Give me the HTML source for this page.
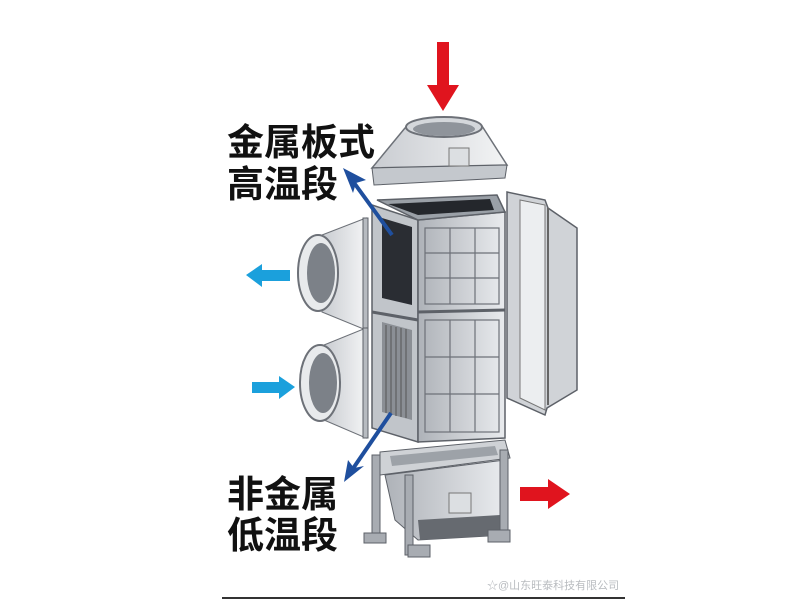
<!DOCTYPE html>
<html><head><meta charset="utf-8"><style>
body{margin:0;background:#fff;}
svg{display:block}
.t{font-family:"Liberation Sans","Noto Sans CJK SC",sans-serif;font-size:37px;font-weight:bold;fill:#111;}
</style></head><body>
<svg width="800" height="600" viewBox="0 0 800 600">
<defs>
<linearGradient id="g1" x1="0" x2="1"><stop offset="0" stop-color="#aeb2b8"/><stop offset="1" stop-color="#e9ebee"/></linearGradient>
<linearGradient id="g2" x1="0" x2="1"><stop offset="0" stop-color="#c9ccd1"/><stop offset="1" stop-color="#f3f4f5"/></linearGradient>
</defs>
<polygon points="437,42 449,42 449,85 459,85 443,111 427,85 437,85" fill="#e0141e"/>
<polygon points="405,128 482,126 507,165 372,168" fill="url(#g2)" stroke="#6d7178" stroke-width="1.5"/>
<ellipse cx="444" cy="127" rx="38" ry="10" fill="#d4d7db" stroke="#6d7178" stroke-width="2"/>
<ellipse cx="444" cy="129" rx="31" ry="7" fill="#8f949b"/>
<polygon points="372,168 507,165 505,178 374,185" fill="#c4c8cd" stroke="#5d6168"/>
<rect x="449" y="148" width="20" height="18" fill="#dcdfe2" stroke="#777"/>
<polygon points="507,192 545,200 548,208 577,228 577,390 547,408 545,415 507,398" fill="#d0d3d7" stroke="#5d6168" stroke-width="1.5"/>
<polygon points="520,200 545,205 545,410 520,398" fill="#eceef0" stroke="#777"/>
<line x1="548" y1="208" x2="548" y2="405" stroke="#666" stroke-width="2"/>
<polygon points="372,205 418,220 418,442 372,428" fill="#c1c5ca" stroke="#5d6168" stroke-width="1.5"/>
<polygon points="382,218 412,227 412,305 382,298" fill="#2a2d33"/>
<polygon points="382,322 412,330 412,420 382,412" fill="#8b8f95"/>
<g stroke="#555" stroke-width="1">
<line x1="386" y1="325" x2="386" y2="413"/><line x1="391" y1="326" x2="391" y2="414"/><line x1="396" y1="327" x2="396" y2="416"/><line x1="401" y1="328" x2="401" y2="417"/><line x1="406" y1="329" x2="406" y2="418"/>
</g>
<line x1="372" y1="312" x2="418" y2="320" stroke="#5d6168" stroke-width="3"/>
<polygon points="418,220 505,212 505,438 418,442" fill="url(#g1)" stroke="#5d6168" stroke-width="1.5"/>
<line x1="418" y1="312" x2="505" y2="310" stroke="#5d6168" stroke-width="3"/>
<g stroke="#6d7178" stroke-width="1.2" fill="none">
<rect x="425" y="228" width="74" height="76"/>
<line x1="450" y1="228" x2="450" y2="304"/><line x1="475" y1="228" x2="475" y2="304"/>
<line x1="425" y1="253" x2="499" y2="253"/><line x1="425" y1="278" x2="499" y2="278"/>
<rect x="425" y="320" width="74" height="112"/>
<line x1="450" y1="320" x2="450" y2="432"/><line x1="475" y1="320" x2="475" y2="432"/>
<line x1="425" y1="357" x2="499" y2="357"/><line x1="425" y1="394" x2="499" y2="394"/>
</g>
<polygon points="377,200 497,195 505,212 418,220" fill="#9aa0a7" stroke="#5d6168" stroke-width="1.5"/>
<polygon points="388,204 490,199 494,210 418,215" fill="#24272c"/>
<polygon points="322,235 366,218 366,330 322,312" fill="url(#g2)" stroke="#6d7178"/>
<rect x="363" y="218" width="5" height="112" fill="#b7bbc0" stroke="#5d6168"/>
<ellipse cx="318" cy="273" rx="20" ry="38" fill="#e8eaec" stroke="#6d7178" stroke-width="2"/>
<ellipse cx="321" cy="273" rx="14" ry="30" fill="#7c8188"/>
<polygon points="324,345 366,328 366,438 324,420" fill="url(#g2)" stroke="#6d7178"/>
<rect x="363" y="328" width="5" height="110" fill="#b7bbc0" stroke="#5d6168"/>
<ellipse cx="320" cy="383" rx="20" ry="38" fill="#e8eaec" stroke="#6d7178" stroke-width="2"/>
<ellipse cx="323" cy="383" rx="14" ry="30" fill="#7c8188"/>
<polygon points="246,275 262,264 262,270 290,270 290,281 262,281 262,287" fill="#1ba0dc"/>
<polygon points="295,387 279,376 279,382 252,382 252,393 279,393 279,399" fill="#1ba0dc"/>
<line x1="392" y1="235" x2="352" y2="180" stroke="#1f4f9e" stroke-width="4"/>
<polygon points="343,168 366,180 356,183 353,193" fill="#1f4f9e"/>
<line x1="391" y1="413" x2="352" y2="470" stroke="#1f4f9e" stroke-width="4"/>
<polygon points="344,482 348,460 354,468 364,466" fill="#1f4f9e"/>
<polygon points="380,452 505,440 510,458 380,475" fill="#cfd2d6" stroke="#5d6168"/>
<polygon points="390,456 495,446 498,455 392,466" fill="#9da2a8"/>
<polygon points="385,475 505,460 505,535 418,540 395,520" fill="url(#g1)" stroke="#5d6168"/>
<rect x="449" y="493" width="22" height="20" fill="#dcdfe2" stroke="#777"/>
<polygon points="418,520 500,515 500,535 420,540" fill="#666a70"/>
<g fill="#a8acb2" stroke="#5d6168">
<rect x="372" y="455" width="8" height="85"/>
<rect x="405" y="475" width="8" height="80"/>
<rect x="500" y="450" width="8" height="90"/>
<rect x="364" y="533" width="22" height="10"/>
<rect x="408" y="545" width="22" height="12"/>
<rect x="488" y="530" width="22" height="12"/>
</g>
<polygon points="520,487 548,487 548,479 570,494 548,509 548,501 520,501" fill="#e0141e"/>
<text class="t" x="227" y="155">金属板式</text>
<text class="t" x="227" y="197">高温段</text>
<text class="t" x="227" y="507">非金属</text>
<text class="t" x="227" y="548">低温段</text>
<text x="487" y="589" font-family="Liberation Sans,Noto Sans CJK SC,sans-serif" font-size="11" fill="#b9bcc0">☆@山东旺泰科技有限公司</text>
<line x1="222" y1="598" x2="625" y2="598" stroke="#333" stroke-width="2"/>
</svg>
</body></html>
